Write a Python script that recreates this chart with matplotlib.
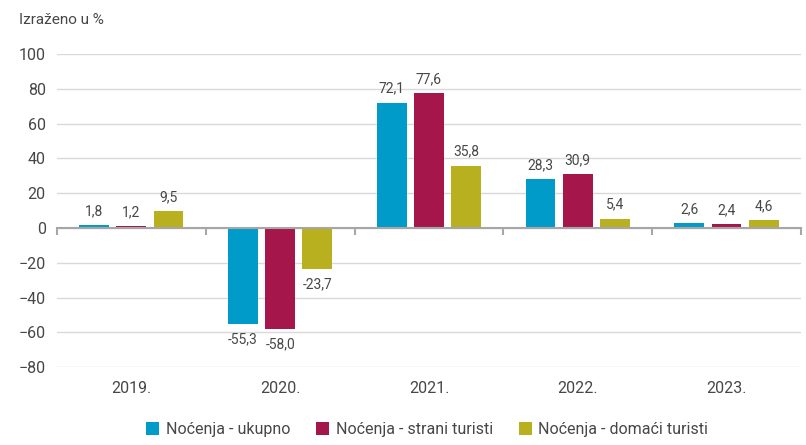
import numpy as np
import matplotlib
matplotlib.use('Agg')
import matplotlib.pyplot as plt

years = ['2019.', '2020.', '2021.', '2022.', '2023.']
ukupno = [1.8, -55.3, 72.1, 28.3, 2.6]
strani = [1.2, -58.0, 77.6, 30.9, 2.4]
domaci = [9.5, -23.7, 35.8, 5.4, 4.6]
series_names = ['Noćenja - ukupno', 'Noćenja - strani turisti', 'Noćenja - domaći turisti']
colors = ['#009bc9', '#a5174b', '#b9b020']

plt.rcParams['font.family'] = ['Roboto', 'DejaVu Sans']
txt = '#474747'

fig = plt.figure(figsize=(8.06, 4.45), dpi=100)
ax = fig.add_axes([0.0707, 0.175, 0.923, 0.7035])

x = np.arange(len(years))
w = 0.2
offs = [-0.25, 0.0, 0.25]
for vals, off, c, name in zip([ukupno, strani, domaci], offs, colors, series_names):
    bars = ax.bar(x + off, vals, w, color=c, label=name, zorder=3)
    for b, v in zip(bars, vals):
        lab = f'{v:.1f}'.replace('.', ',')
        if v >= 0:
            ax.annotate(lab, (b.get_x() + b.get_width() / 2, v), xytext=(0, 5),
                        textcoords='offset points', ha='center', va='bottom',
                        fontsize=10, color=txt)
        else:
            ax.annotate(lab, (b.get_x() + b.get_width() / 2, v), xytext=(0, -6),
                        textcoords='offset points', ha='center', va='top',
                        fontsize=10, color=txt)

ax.set_xlim(-0.5, len(years) - 0.5)
ax.set_ylim(-80, 100)
ax.set_yticks(np.arange(-80, 101, 20))
ax.tick_params(axis='y', length=0, labelsize=11.5, labelcolor=txt, pad=8)
ax.yaxis.grid(True, color='#d9d9d9', lw=1, zorder=0)
for s in ['top', 'right', 'left']:
    ax.spines[s].set_visible(False)
ax.spines['bottom'].set_position(('data', 0))
ax.spines['bottom'].set_color('#a6a6a6')
ax.spines['bottom'].set_linewidth(1.5)
ax.spines['bottom'].set_zorder(4)
ax.set_xticks(np.arange(-0.5, len(years), 1.0))
ax.tick_params(axis='x', length=5, width=1.5, color='#a6a6a6', labelbottom=False)

sec = ax.secondary_xaxis('bottom')
sec.set_xticks(x)
sec.set_xticklabels(years)
sec.tick_params(length=0, labelsize=11.5, labelcolor=txt, pad=10)
sec.spines['bottom'].set_visible(False)

fig.text(0.024, 0.955, 'Izraženo u %', fontsize=11, color=txt, va='center')

fig.legend(loc='lower center', bbox_to_anchor=(0.53, -0.014), ncol=3, frameon=False,
           fontsize=11.5, handlelength=0.85, handleheight=0.85, handletextpad=0.4,
           columnspacing=1.6, labelcolor=txt)

plt.savefig('out.png', dpi=100)
print("done")
